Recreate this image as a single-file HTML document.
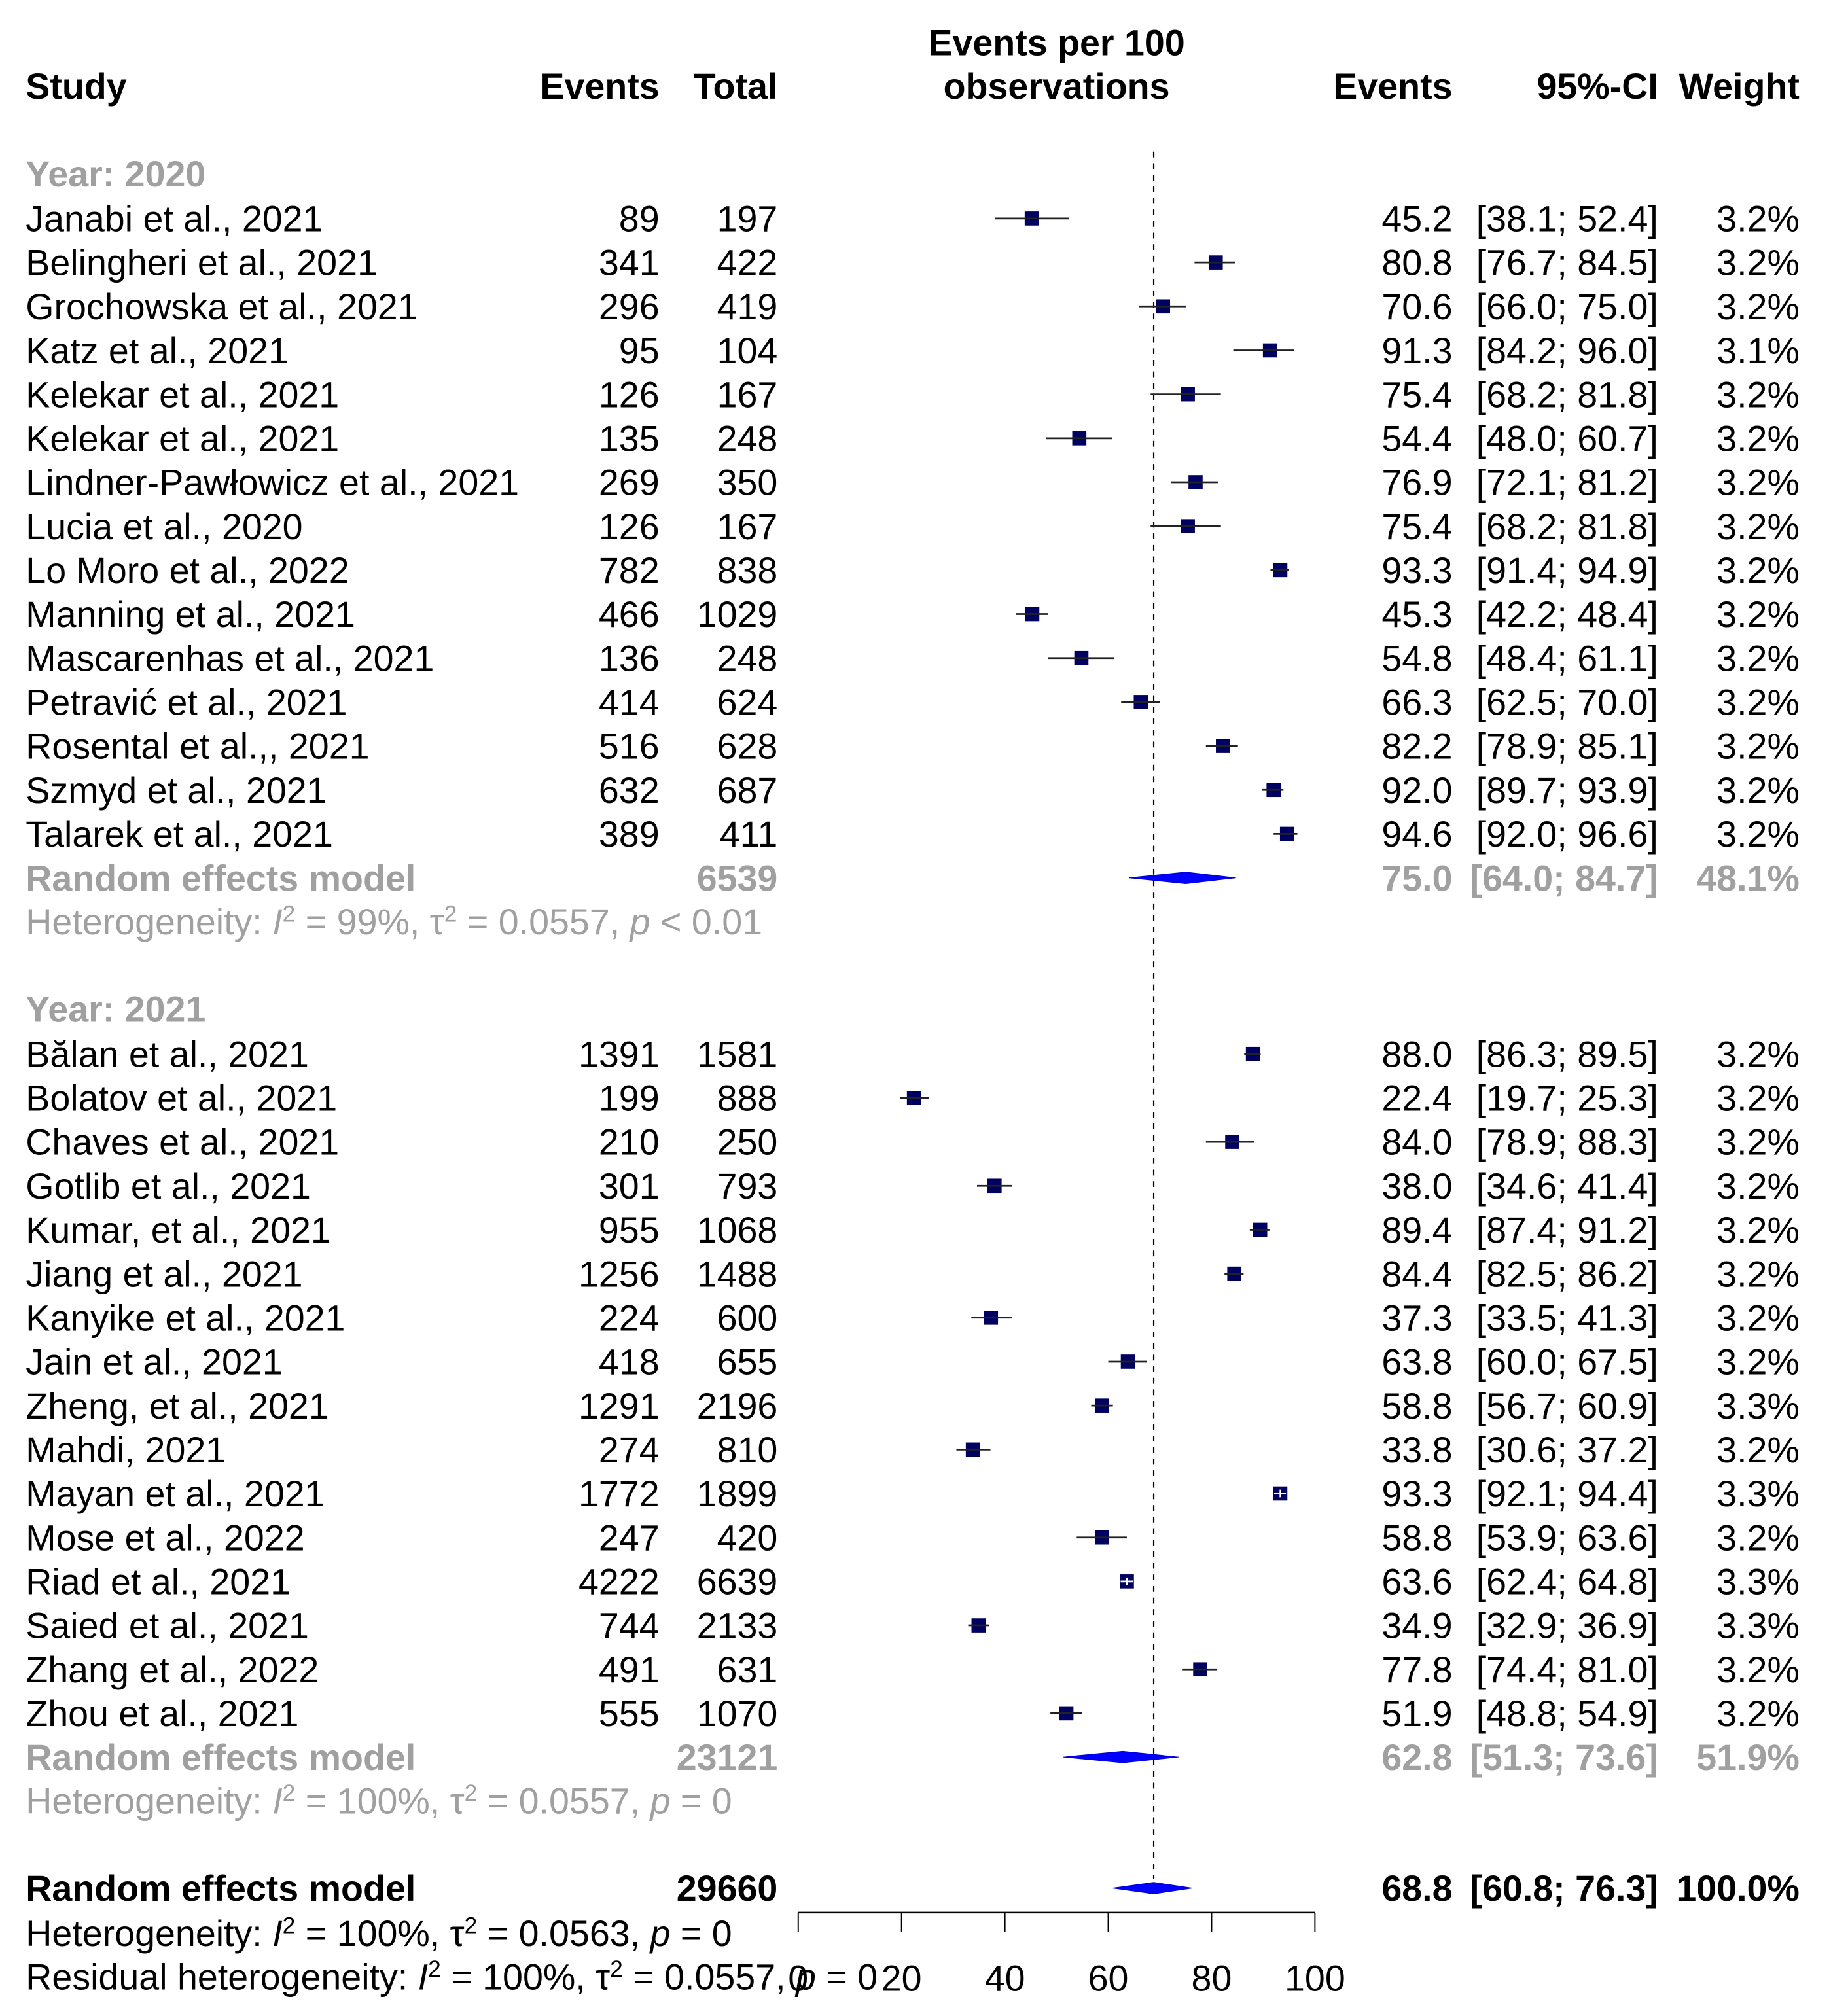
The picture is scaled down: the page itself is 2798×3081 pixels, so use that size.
<!DOCTYPE html>
<html><head><meta charset="utf-8"><style>
html,body{margin:0;padding:0;background:#fff}
svg{display:block}
text{font-family:"Liberation Sans",Arial,sans-serif;font-size:28.3px}
</style></head><body>
<svg id="plot" xmlns="http://www.w3.org/2000/svg" width="2798" height="3081" viewBox="0 0 1424.5 1568.5" preserveAspectRatio="none">
<g id="g"></g>
</svg>
<script>
const names2020 = ["Janabi et al., 2021","Belingheri et al., 2021","Grochowska et al., 2021","Katz et al., 2021","Kelekar et al., 2021","Kelekar et al., 2021","Lindner-Pawłowicz et al., 2021","Lucia et al., 2020","Lo Moro et al., 2022","Manning et al., 2021","Mascarenhas et al., 2021","Petravić et al., 2021","Rosental et al.,, 2021","Szmyd et al., 2021","Talarek et al., 2021"];
const events2020 = [89,341,296,95,126,135,269,126,782,466,136,414,516,632,389];
const totals2020 = [197,422,419,104,167,248,350,167,838,1029,248,624,628,687,411];
const est2020 = [45.2,80.8,70.6,91.3,75.4,54.4,76.9,75.4,93.3,45.3,54.8,66.3,82.2,92.0,94.6];
const lo2020 = [38.1,76.7,66.0,84.2,68.2,48.0,72.1,68.2,91.4,42.2,48.4,62.5,78.9,89.7,92.0];
const hi2020 = [52.4,84.5,75.0,96.0,81.8,60.7,81.2,81.8,94.9,48.4,61.1,70.0,85.1,93.9,96.6];
const w2020 = ["3.2%","3.2%","3.2%","3.1%","3.2%","3.2%","3.2%","3.2%","3.2%","3.2%","3.2%","3.2%","3.2%","3.2%","3.2%"];
const names2021 = ["Bălan et al., 2021","Bolatov et al., 2021","Chaves et al., 2021","Gotlib et al., 2021","Kumar, et al., 2021","Jiang et al., 2021","Kanyike et al., 2021","Jain et al., 2021","Zheng, et al., 2021","Mahdi, 2021","Mayan et al., 2021","Mose et al., 2022","Riad et al., 2021","Saied et al., 2021","Zhang et al., 2022","Zhou et al., 2021"];
const events2021 = [1391,199,210,301,955,1256,224,418,1291,274,1772,247,4222,744,491,555];
const totals2021 = [1581,888,250,793,1068,1488,600,655,2196,810,1899,420,6639,2133,631,1070];
const est2021 = [88.0,22.4,84.0,38.0,89.4,84.4,37.3,63.8,58.8,33.8,93.3,58.8,63.6,34.9,77.8,51.9];
const lo2021 = [86.3,19.7,78.9,34.6,87.4,82.5,33.5,60.0,56.7,30.6,92.1,53.9,62.4,32.9,74.4,48.8];
const hi2021 = [89.5,25.3,88.3,41.4,91.2,86.2,41.3,67.5,60.9,37.2,94.4,63.6,64.8,36.9,81.0,54.9];
const w2021 = ["3.2%","3.2%","3.2%","3.2%","3.2%","3.2%","3.2%","3.2%","3.3%","3.2%","3.3%","3.2%","3.3%","3.3%","3.2%","3.2%"];
const pooledEst = [75.0,62.8,68.8];
const pooledLo = [64.0,51.3,60.8];
const pooledHi = [84.7,73.6,76.3];
const pooledTotal = [6539,23121,29660];
const pooledW = ["48.1%","51.9%","100.0%"];
const ticks = [0,20,40,60,80,100];

const NS="http://www.w3.org/2000/svg";
const g=document.getElementById('g');
const X=v=>621+v*4.02;
function el(tag,attrs,txt){const e=document.createElementNS(NS,tag);for(const k in attrs)e.setAttribute(k,attrs[k]);if(txt!==undefined)e.textContent=txt;g.appendChild(e);return e;}
function t(x,y,s,anchor,opts){const o=opts||{};const e=el('text',{x:x,y:y,'text-anchor':anchor||'start',fill:o.fill||'#000','font-weight':o.bold?'bold':'normal'});e.innerHTML=s;return e;}
const GR='#a0a0a0';
let e;
e=t(20,77,'Study','start',{bold:1});
e=t(513,77,'Events','end',{bold:1});
e=t(605,77,'Total','end',{bold:1});
e=t(822,43,'Events per 100','middle',{bold:1});
e=t(822,77,'observations','middle',{bold:1});
e=t(1130,77,'Events','end',{bold:1});
e=t(1290,77,'95%-CI','end',{bold:1});
e=t(1400,77,'Weight','end',{bold:1});

e=el('line',{x1:X(pooledEst[2]),x2:X(pooledEst[2]),y1:118,y2:1462,stroke:'#000','stroke-width':1.1,'stroke-dasharray':'4.5 4.5'});


const f1=v=>v.toFixed(1);
function study(y,name,ev,tot,est,lo,hi,w){
  e=t(20,y+10,name);
  e=t(513,y+10,ev,'end');
  e=t(605,y+10,tot,'end');
  e=t(1130,y+10,f1(est),'end');
  e=t(1290,y+10,'['+f1(lo)+'; '+f1(hi)+']','end');
  e=t(1400,y+10,w,'end');
  const s=11;
  e=el('rect',{x:X(est)-s/2,y:y-s/2,width:s,height:s,fill:'#000060'});
  
  const inside=(X(hi)-X(lo))<s;
  e=el('line',{x1:X(lo),x2:X(hi),y1:y,y2:y,stroke:inside?'#fff':'#222','stroke-width':1.4});
  
  if(inside){e=el('line',{x1:X(est),x2:X(est),y1:y-3,y2:y+3,stroke:'#fff','stroke-width':1.2});
  }
}
function pooled(y,i,label,col){
  e=t(20,y+10,label,'start',{bold:1,fill:col});
  e=t(605,y+10,pooledTotal[i],'end',{bold:1,fill:col});
  e=t(1130,y+10,f1(pooledEst[i]),'end',{bold:1,fill:col});
  e=t(1290,y+10,'['+f1(pooledLo[i])+'; '+f1(pooledHi[i])+']','end',{bold:1,fill:col});
  e=t(1400,y+10,pooledW[i],'end',{bold:1,fill:col});
  const pts=[[X(pooledLo[i]),y],[X(pooledEst[i]),y-4.5],[X(pooledHi[i]),y],[X(pooledEst[i]),y+4.5]].map(p=>p.join(',')).join(' ');
  e=el('polygon',{points:pts,fill:'#0000ff',stroke:'#0000cc','stroke-width':0.5});
  
}
const step=34.2;
e=t(20,145,'Year: 2020','start',{bold:1,fill:GR});
names2020.forEach((n,i)=>study(170+i*step,n,events2020[i],totals2020[i],est2020[i],lo2020[i],hi2020[i],w2020[i]));
pooled(683,0,'Random effects model',GR);
e=t(20,727,'Heterogeneity: <tspan font-style="italic">I</tspan><tspan dy="-10" font-size="18">2</tspan><tspan dy="10"> = 99%, τ</tspan><tspan dy="-10" font-size="18">2</tspan><tspan dy="10"> = 0.0557, </tspan><tspan font-style="italic">p</tspan> &lt; 0.01','start',{fill:GR});

e=t(20,795,'Year: 2021','start',{bold:1,fill:GR});
names2021.forEach((n,i)=>study(820+i*step,n,events2021[i],totals2021[i],est2021[i],lo2021[i],hi2021[i],w2021[i]));
pooled(1367,1,'Random effects model',GR);
e=t(20,1411,'Heterogeneity: <tspan font-style="italic">I</tspan><tspan dy="-10" font-size="18">2</tspan><tspan dy="10"> = 100%, τ</tspan><tspan dy="-10" font-size="18">2</tspan><tspan dy="10"> = 0.0557, </tspan><tspan font-style="italic">p</tspan> = 0','start',{fill:GR});

pooled(1469,2,'Random effects model','#000');
e=t(20,1514,'Heterogeneity: <tspan font-style="italic">I</tspan><tspan dy="-10" font-size="18">2</tspan><tspan dy="10"> = 100%, τ</tspan><tspan dy="-10" font-size="18">2</tspan><tspan dy="10"> = 0.0563, </tspan><tspan font-style="italic">p</tspan> = 0');

e=t(20,1548,'Residual heterogeneity: <tspan font-style="italic">I</tspan><tspan dy="-10" font-size="18">2</tspan><tspan dy="10"> = 100%, τ</tspan><tspan dy="-10" font-size="18">2</tspan><tspan dy="10"> = 0.0557, </tspan><tspan font-style="italic">p</tspan> = 0');

e=el('line',{x1:X(ticks[0]),x2:X(ticks[ticks.length-1]),y1:1488,y2:1488,stroke:'#000','stroke-width':1.3});

ticks.forEach(v=>{
  e=el('line',{x1:X(v),x2:X(v),y1:1488,y2:1503,stroke:'#000','stroke-width':1});
  
  e=t(X(v),1549,String(v),'middle');
  
});
</script>
</body></html>
